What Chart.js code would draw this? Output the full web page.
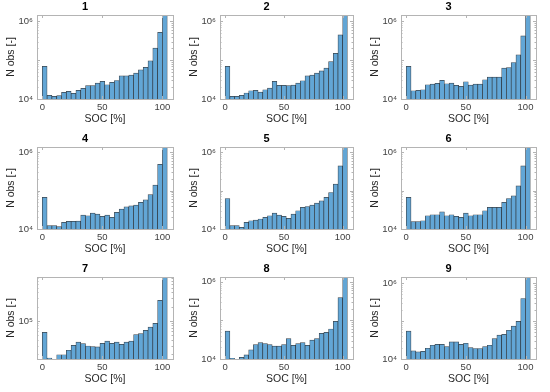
<!DOCTYPE html>
<html>
<head>
<meta charset="utf-8">
<script src="https://cdn.jsdelivr.net/npm/chart.js@4.4.1/dist/chart.umd.min.js"></script>
<style>
  html, body { margin: 0; padding: 0; background: #fff; }
  #wrap { position: relative; width: 550px; height: 392px; overflow: hidden; }
  #wrap canvas { position: absolute; }
</style>
</head>
<body>
<div id="wrap"></div>
<script>
// ヒストグラムのビン中心 (SOC 4% 刻み, 0–104)
const binCenters = [2, 6, 10, 14, 18, 22, 26, 30, 34, 38, 42, 46, 50,
                    54, 58, 62, 66, 70, 74, 78, 82, 86, 90, 94, 98, 102];
const xTicks = [0, 50, 100];
const titles = ["1", "2", "3", "4", "5", "6", "7", "8", "9"];

// 各パネルの観測数
const obs1 = [6.9e4, 1.24e4, 1.17e4, 1.22e4, 1.48e4, 1.57e4, 1.4e4, 1.67e4, 1.88e4, 2.2e4, 2.2e4, 2.57e4, 2.84e4,
              2.33e4, 2.67e4, 3.0e4, 3.96e4, 3.96e4, 4.12e4, 4.64e4, 5.64e4, 6.5e4, 9.6e4, 2.03e5, 5.2e5, 1.45e6];
const obs2 = [6.9e4, 1.17e4, 1.17e4, 1.24e4, 1.43e4, 1.63e4, 1.67e4, 1.51e4, 1.73e4, 1.91e4, 2.84e4, 2.24e4, 2.24e4,
              2.2e4, 2.28e4, 2.57e4, 2.95e4, 3.96e4, 4.12e4, 4.64e4, 5.3e4, 6.2e4, 9.2e4, 1.5e5, 4.45e5, 1.45e6];
const obs3 = [6.9e4, 1.63e4, 1.67e4, 1.73e4, 2.33e4, 2.42e4, 2.52e4, 3.01e4, 2.47e4, 2.57e4, 2.24e4, 2.11e4, 2.78e4,
              2.28e4, 2.42e4, 2.42e4, 3.13e4, 3.66e4, 3.66e4, 3.66e4, 6.2e4, 6.45e4, 8.7e4, 1.37e5, 4.2e5, 1.45e6];
const obs4 = [6.6e4, 1.22e4, 1.22e4, 1.15e4, 1.49e4, 1.58e4, 1.58e4, 1.61e4, 2.3e4, 2.21e4, 2.6e4, 2.44e4, 2.13e4,
              2.3e4, 2.0e4, 2.7e4, 3.29e4, 3.78e4, 4.01e4, 4.17e4, 4.9e4, 5.75e4, 7.8e4, 1.38e5, 4.8e5, 1.35e6];
const obs5 = [6.2e4, 1.22e4, 1.22e4, 1.1e4, 1.49e4, 1.64e4, 1.71e4, 1.82e4, 2.0e4, 2.21e4, 2.6e4, 2.3e4, 2.13e4,
              1.89e4, 2.44e4, 2.98e4, 3.63e4, 3.85e4, 4.17e4, 4.7e4, 5.4e4, 6.6e4, 8.9e4, 1.46e5, 4.35e5, 1.35e6];
const obs6 = [6.6e4, 1.55e4, 1.55e4, 1.64e4, 2.21e4, 2.35e4, 2.35e4, 2.8e4, 2.21e4, 2.35e4, 2.13e4, 2.0e4, 2.6e4,
              2.21e4, 2.35e4, 2.35e4, 2.98e4, 3.63e4, 3.63e4, 3.63e4, 4.9e4, 6.2e4, 7.3e4, 1.32e5, 4.35e5, 1.35e6];
const obs7 = [5.7e4, 1.64e4, null, 1.92e4, 1.92e4, 2.39e4, 3.04e4, 3.57e4, 3.29e4, 2.94e4, 2.85e4, 2.81e4, 3.34e4,
              3.73e4, 3.34e4, 3.57e4, 3.19e4, 3.57e4, 3.73e4, 5.13e4, 5.38e4, 6.3e4, 7.4e4, 8.9e4, 2.72e5, 8.5e5];
const obs8 = [5.3e4, 1.04e4, null, 1.1e4, 1.28e4, 1.73e4, 2.35e4, 2.66e4, 2.5e4, 2.35e4, 2.17e4, 2.17e4, 2.35e4,
              3.39e4, 2.26e4, 2.5e4, 2.66e4, 2.26e4, 3.07e4, 3.39e4, 4.6e4, 4.9e4, 6.0e4, 9.4e4, 3.9e5, 1.33e6];
const obs9 = [5.4e4, 1.64e4, 1.55e4, 1.58e4, 1.92e4, 2.3e4, 2.44e4, 2.44e4, 2.13e4, 2.81e4, 2.81e4, 2.44e4, 2.6e4,
              2.0e4, 1.89e4, 1.89e4, 2.13e4, 2.3e4, 3.42e4, 4.26e4, 4.43e4, 5.7e4, 7.3e4, 9.8e4, 3.9e5, 1.43e6];
const allObs = [obs1, obs2, obs3, obs4, obs5, obs6, obs7, obs8, obs9];

// y 軸範囲と目盛り
const yMins  = [1e4, 1e4, 1e4, 1e4, 1e4, 1e4, 1.56e4, 1e4, 1e4];
const yMaxes = [1.45e6, 1.45e6, 1.45e6, 1.35e6, 1.35e6, 1.35e6, 8.5e5, 1.33e6, 1.43e6];
const yTicks = [[1e4, 1e6], [1e4, 1e6], [1e4, 1e6], [1e4, 1e6], [1e4, 1e6], [1e4, 1e6], [1e5], [1e4, 1e6], [1e4, 1e6]];

// プロット領域 (px)
const colLeft  = [37, 220, 401];
const colRight = [173, 353, 536];
const rowTop   = [15, 147, 277];
const rowBot   = [99, 229, 359];
const PAD_L = 40, PAD_R = 8, PAD_T = 20, PAD_B = 30;

const FONT = "'Liberation Sans', Arial, Helvetica, sans-serif";
const SUP = { "4": "\u2074", "5": "\u2075", "6": "\u2076" };

// 枠線と内向き目盛り
const boxPlugin = {
  id: "boxPlugin",
  afterDatasetsDraw(chart) {
    const { left, right, top, bottom } = chart.chartArea;
    const ctx = chart.ctx;
    const ys = chart.scales.y, xs = chart.scales.x;
    ctx.save();
    ctx.strokeStyle = "#b4b4b4";
    ctx.lineWidth = 1;
    ctx.beginPath();
    // 対数軸の補助目盛り
    for (let e = 4; e <= 6; e++) {
      for (let m = 1; m <= 9; m++) {
        const v = m * Math.pow(10, e);
        if (v < ys.min || v > ys.max) continue;
        const py = Math.round(ys.getPixelForValue(v)) + 0.5;
        const len = m === 1 ? 3 : 1.5;
        ctx.moveTo(left, py); ctx.lineTo(left + len, py);
        ctx.moveTo(right, py); ctx.lineTo(right - len, py);
      }
    }
    xTicks.forEach(v => {
      const px = Math.round(xs.getPixelForValue(v)) + 0.5;
      ctx.moveTo(px, bottom); ctx.lineTo(px, bottom - 3);
      ctx.moveTo(px, top); ctx.lineTo(px, top + 3);
    });
    ctx.stroke();
    ctx.strokeRect(Math.round(left) + 0.5, Math.round(top) + 0.5,
                   Math.round(right - left), Math.round(bottom - top));
    ctx.restore();
  },
};

const wrap = document.getElementById("wrap");

allObs.forEach((obs, i) => {
  const r = Math.floor(i / 3), c = i % 3;
  const l = colLeft[c], rt = colRight[c], t = rowTop[r], b = rowBot[r];
  const w = rt - l + PAD_L + PAD_R;
  const h = b - t + PAD_T + PAD_B;

  const canvas = document.createElement("canvas");
  canvas.width = w; canvas.height = h;
  canvas.style.left = (l - PAD_L) + "px";
  canvas.style.top = (t - PAD_T) + "px";
  canvas.style.width = w + "px";
  canvas.style.height = h + "px";
  wrap.appendChild(canvas);

  new Chart(canvas, {
    type: "bar",
    data: {
      datasets: [{
        data: binCenters.map((x, k) => ({ x, y: obs[k] })),
        backgroundColor: "#62a6d6",
        borderColor: "rgba(25,35,45,0.85)",
        borderWidth: 0.7,
        barPercentage: 1,
        categoryPercentage: 1,
        clip: 0,
      }],
    },
    options: {
      responsive: false,
      animation: false,
      events: [],
      layout: { padding: { left: 0, right: PAD_R, top: 0, bottom: 0 } },
      plugins: {
        legend: { display: false },
        tooltip: { enabled: false },
        title: {
          display: true,
          text: titles[i],
          color: "#000",
          font: { family: FONT, size: 11, weight: "bold", lineHeight: 1 },
          padding: { top: 6, bottom: 3 },
        },
      },
      scales: {
        x: {
          type: "linear",
          min: -4.4,
          max: 108.8,
          offset: false,
          grid: { display: false, drawTicks: false },
          border: { display: false },
          afterBuildTicks: (s) => { s.ticks = xTicks.map(v => ({ value: v })); },
          afterFit: (s) => { s.height = PAD_B; },
          ticks: {
            color: "#404040",
            font: { family: FONT, size: 9.5 },
            padding: 3,
            maxRotation: 0,
            autoSkip: false,
          },
          title: {
            display: true,
            text: "SOC [%]",
            color: "#262626",
            font: { family: FONT, size: 10.5 },
            padding: { top: 0, bottom: 4 },
          },
        },
        y: {
          type: "logarithmic",
          min: yMins[i],
          max: yMaxes[i],
          grid: { display: false, drawTicks: false },
          border: { display: false },
          afterBuildTicks: (s) => { s.ticks = yTicks[i].map(v => ({ value: v })); },
          afterFit: (s) => { s.width = PAD_L; },
          ticks: {
            color: "#404040",
            font: { family: FONT, size: 9.5 },
            padding: 4,
            callback: (v) => "10" + SUP[String(Math.round(Math.log10(v)))],
          },
          title: {
            display: true,
            text: "N obs [-]",
            color: "#262626",
            font: { family: FONT, size: 10.5 },
            padding: { top: 8, bottom: 0 },
          },
        },
      },
    },
    plugins: [boxPlugin],
  });
});
</script>
</body>
</html>
